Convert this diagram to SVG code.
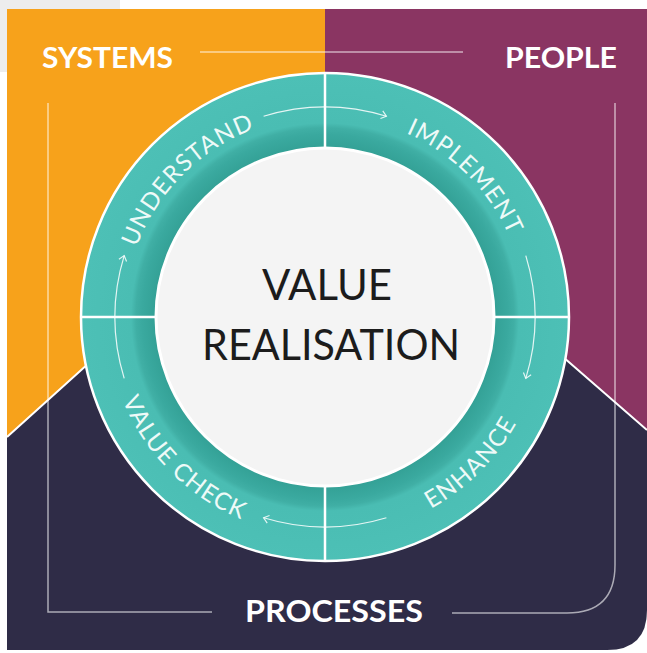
<svg xmlns="http://www.w3.org/2000/svg" width="647" height="653" viewBox="0 0 647 653">
  <defs>
    <style>
      .head { font-family: Lato, "Liberation Sans", sans-serif; font-weight: 700; fill: #ffffff; }
      .ctr { font-family: Lato, "Liberation Sans", sans-serif; font-weight: 400; fill: #1c1c1c; font-size: 42px; }
      .lab { font-family: Lato, "Liberation Sans", sans-serif; font-weight: 400; fill: #eefaf8; font-size: 24px; letter-spacing: 1.2px; }
      .guide { fill: none; stroke: #ffffff; stroke-opacity: 0.6; stroke-width: 1.5; }
      .div { stroke: #ffffff; stroke-width: 2.5; }
      .arr { fill: none; stroke: #ffffff; stroke-opacity: 0.85; stroke-width: 1.2; marker-end: url(#head); }
    </style>
    <radialGradient id="ringGrad" gradientUnits="userSpaceOnUse" cx="325" cy="317" r="244">
      <stop offset="0.69" stop-color="#33a095"/>
      <stop offset="0.75" stop-color="#3aa99f"/>
      <stop offset="0.775" stop-color="#40afa5"/>
      <stop offset="0.795" stop-color="#4abdb3"/>
      <stop offset="1" stop-color="#4dc0b6"/>
    </radialGradient>
    <marker id="head" markerUnits="userSpaceOnUse" markerWidth="12" markerHeight="12" refX="7" refY="6" orient="auto">
      <path d="M2,2 L7,6 L2,10" fill="none" stroke="#ffffff" stroke-opacity="0.85" stroke-width="1.2"/>
    </marker>
    <path id="topArc" d="M124,317 A201,201 0 0 1 526,317"/>
    <path id="botArc" d="M106,317 A219,219 0 0 0 544,317"/>
  </defs>

  <rect width="647" height="653" fill="#ffffff"/>
  <rect width="120" height="72" fill="#ededed"/>

  <g id="systems">
    <rect x="7" y="9" width="318" height="430" fill="#f7a21b"/>
    <text class="head" x="42" y="68" font-size="29" textLength="131" lengthAdjust="spacingAndGlyphs">SYSTEMS</text>
  </g>

  <g id="people">
    <rect x="325" y="9" width="322" height="425" fill="#8a3562"/>
    <text class="head" x="505" y="68" font-size="29" textLength="112" lengthAdjust="spacingAndGlyphs">PEOPLE</text>
  </g>

  <g id="processes">
    <path d="M7,437 L325,150 L647,430 V610 Q647,650 607,650 H7 Z" fill="#2f2c47"/>
    <path d="M7,437 L325,150 L647,430" fill="none" stroke="#ffffff" stroke-width="2"/>
    <text class="head" x="245" y="622" font-size="30" textLength="178" lengthAdjust="spacingAndGlyphs">PROCESSES</text>
  </g>

  <g id="guides">
    <path class="guide" d="M200,52 H463"/>
    <path class="guide" d="M48,103 V612 H212"/>
    <path class="guide" d="M615,103 V565 Q615,613 567,613 H452"/>
  </g>

  <g id="ring">
    <circle cx="325" cy="317" r="244" fill="url(#ringGrad)" stroke="#ffffff" stroke-width="2.5"/>
    <line class="div" x1="325" y1="73" x2="325" y2="150"/>
    <line class="div" x1="325" y1="484" x2="325" y2="561"/>
    <line class="div" x1="81" y1="317" x2="158" y2="317"/>
    <line class="div" x1="492" y1="317" x2="569" y2="317"/>
  </g>

  <g id="center">
    <circle cx="325" cy="317" r="169" fill="#f4f4f4" stroke="#ffffff" stroke-width="3"/>
    <text class="ctr" x="327" y="300" text-anchor="middle" textLength="130" lengthAdjust="spacingAndGlyphs">VALUE</text>
    <text class="ctr" x="331" y="360" text-anchor="middle" textLength="258" lengthAdjust="spacingAndGlyphs">REALISATION</text>
  </g>

  <g id="understand">
    <text class="lab"><textPath href="#topArc" startOffset="25%" text-anchor="middle">UNDERSTAND</textPath></text>
  </g>
  <g id="implement">
    <text class="lab"><textPath href="#topArc" startOffset="75%" text-anchor="middle">IMPLEMENT</textPath></text>
  </g>
  <g id="enhance">
    <text class="lab"><textPath href="#botArc" startOffset="75%" text-anchor="middle">ENHANCE</textPath></text>
  </g>
  <g id="valuecheck">
    <text class="lab"><textPath href="#botArc" startOffset="25%" text-anchor="middle">VALUE CHECK</textPath></text>
  </g>

  <g id="connectors">
    <path class="arr" d="M263.6,116.2 A210,210 0 0 1 386.4,116.2"/>
    <path class="arr" d="M525.8,255.6 A210,210 0 0 1 525.8,378.4"/>
    <path class="arr" d="M386.4,517.8 A210,210 0 0 1 263.6,517.8"/>
    <path class="arr" d="M124.2,378.4 A210,210 0 0 1 124.2,255.6"/>
  </g>
</svg>
